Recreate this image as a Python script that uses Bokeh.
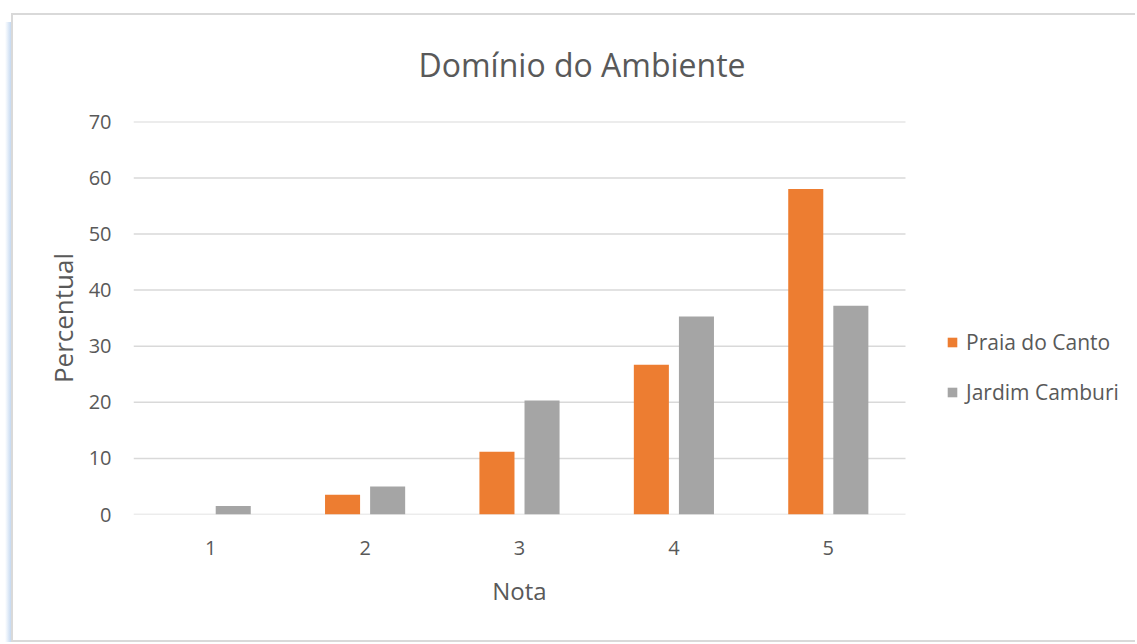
from bokeh.plotting import figure
from bokeh.models import (ColumnDataSource, Legend, LegendItem, Range1d, FixedTicker,
                          LinearAxis)
from bokeh.transform import dodge
from bokeh.embed import file_html
from bokeh.resources import INLINE

notas = [1, 2, 3, 4, 5]
praia_do_canto = [0, 3.5, 11.2, 26.7, 58.0]
jardim_camburi = [1.5, 5.0, 20.3, 35.3, 37.2]
y_ticks = [0, 10, 20, 30, 40, 50, 60, 70]

FONT = "Open Sans"
TXT = "#595959"
LINE = "#D9D9D9"

W, H = 1135, 642
LEFT, TOP, BOTTOM = 133, 121, 128
PLOT_PX = 772  # width of the plotted category area in pixels
frame_w = W - LEFT
x_start = min(notas) - 0.5
x_end = x_start + len(notas) * frame_w / PLOT_PX

src = ColumnDataSource(dict(nota=notas, praia=praia_do_canto, jardim=jardim_camburi))

p = figure(width=W, height=H, x_range=Range1d(x_start, x_end), y_range=Range1d(0, 70.05),
           output_backend="svg", toolbar_location=None,
           min_border_left=LEFT, min_border_right=0, min_border_top=TOP, min_border_bottom=BOTTOM)

# chart-area border (drawn by CSS behind a transparent canvas border)
p.border_fill_color = None
p.background_fill_color = "white"
p.styles = {
    "background": (
        f"linear-gradient({LINE},{LINE}) 11px 13px / calc(100% - 11px) 2px no-repeat, "
        f"linear-gradient({LINE},{LINE}) 11px 13px / 2px calc(100% - 13px) no-repeat, "
        f"linear-gradient({LINE},{LINE}) 11px 640px / calc(100% - 11px) 2px no-repeat, "
        "linear-gradient(to right, rgba(197,217,241,0), #C5D9F1) 5px 22px / 6px calc(100% - 22px) no-repeat, "
        "white"
    )
}

# horizontal grid lines limited to the category area
gx0 = [min(notas) - 0.5] * len(y_ticks)
gx1 = [max(notas) + 0.5] * len(y_ticks)
p.segment(x0=gx0, x1=gx1, y0=y_ticks, y1=y_ticks, line_color=LINE, line_width=1.5)

r1 = p.vbar(x=dodge("nota", -0.146), top="praia", width=0.227, source=src,
            fill_color="#ED7D31", line_color=None)
r2 = p.vbar(x=dodge("nota", 0.146), top="jardim", width=0.227, source=src,
            fill_color="#A5A5A5", line_color=None)

p.title.text = "Domínio do Ambiente"
p.title.text_font = FONT
p.title.text_font_size = "32px"
p.title.text_font_style = "normal"
p.title.text_color = TXT
p.title.align = "left"
p.title.offset = 285
p.title.standoff = 72

p.outline_line_color = None
p.xgrid.grid_line_color = None
p.ygrid.grid_line_color = None
p.yaxis.ticker = FixedTicker(ticks=y_ticks)
p.xaxis.ticker = FixedTicker(ticks=notas)

for ax in (p.xaxis[0], p.yaxis[0]):
    ax.axis_line_color = None
    ax.major_tick_line_color = None
    ax.minor_tick_line_color = None
    ax.major_label_text_font = FONT
    ax.major_label_text_font_size = "20px"
    ax.major_label_text_color = TXT
    ax.axis_label_text_font = FONT
    ax.axis_label_text_font_style = "normal"
    ax.axis_label_text_color = TXT

p.xaxis.major_label_standoff = 20
p.yaxis.axis_label = "Percentual"
p.yaxis.axis_label_text_font_size = "26px"
p.yaxis.major_label_standoff = 16
p.yaxis.axis_label_standoff = 5

# x-axis title centred under the categories
mid = sum(notas) / len(notas)
name_axis = LinearAxis(ticker=FixedTicker(ticks=[mid]), major_label_overrides={mid: "Nota"},
                       axis_line_color=None, major_tick_line_color=None,
                       minor_tick_line_color=None, major_label_standoff=10,
                       major_label_text_font=FONT, major_label_text_font_size="24px",
                       major_label_text_color=TXT)
p.add_layout(name_axis, "below")

legend = Legend(items=[LegendItem(label="Praia do Canto", renderers=[r1]),
                       LegendItem(label="Jardim Camburi", renderers=[r2])],
                location=(813, 108), orientation="vertical",
                glyph_width=12, glyph_height=12, label_height=20, spacing=22,
                padding=0, margin=0, border_line_color=None, background_fill_alpha=0,
                label_text_font=FONT, label_text_font_size="21px", label_text_color=TXT,
                label_standoff=8)
p.add_layout(legend, "center")

open("out.html", "w").write(file_html(p, INLINE))
